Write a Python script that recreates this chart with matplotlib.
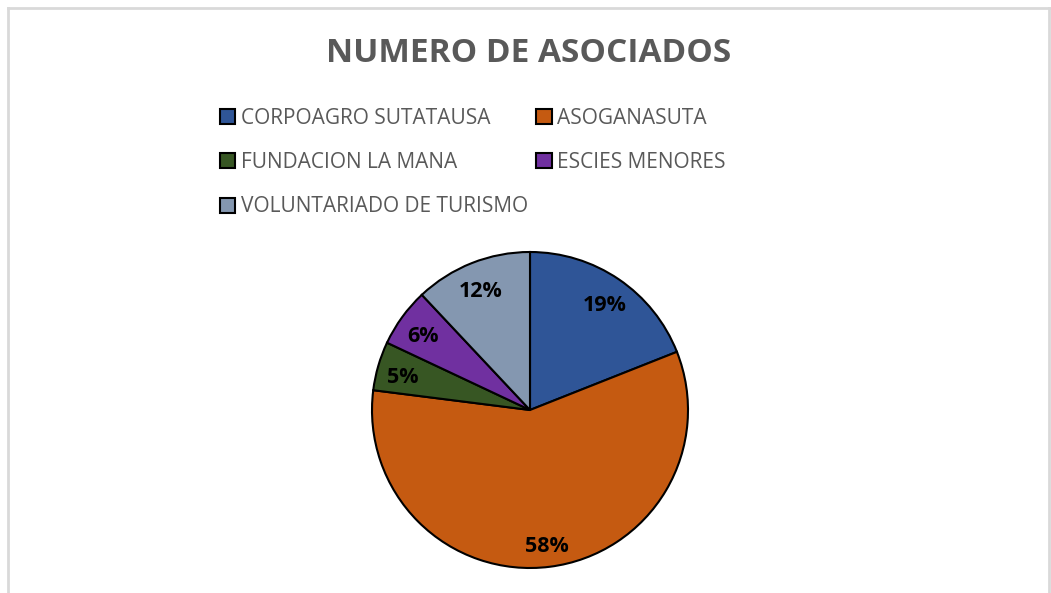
import matplotlib
matplotlib.use("Agg")
import matplotlib.pyplot as plt
from matplotlib.lines import Line2D

# Datos del grafico
categorias = ['CORPOAGRO SUTATAUSA', 'ASOGANASUTA', 'FUNDACION LA MANA',
              'ESCIES MENORES', 'VOLUNTARIADO DE TURISMO']
porcentajes = [19, 58, 5, 6, 12]
colores = ['#2F5597', '#C55A11', '#375623', '#7030A0', '#8497B0']

plt.rcParams['font.family'] = ['Open Sans', 'DejaVu Sans']

fig = plt.figure(figsize=(10.51, 5.93), dpi=100)
W, H = 1051, 593

# Marco del grafico
for xs, ys in [([8, 1049], [585, 585]), ([8, 8], [585, -5]), ([1049, 1049], [585, -5])]:
    fig.add_artist(Line2D([x / W for x in xs], [y / H for y in ys],
                          color='#d9d9d9', lw=2, transform=fig.transFigure))

# Titulo
fig.text(529 / W, 1 - 53 / H, 'NUMERO DE ASOCIADOS', ha='center', va='center',
         fontsize=24, fontweight='bold', color='#595959')

# Pastel
cx, cy, r = 530, 410, 158
ax = fig.add_axes([(cx - 160) / W, (H - cy - 160) / H, 320 / W, 320 / H])
wedges, textos, autotextos = ax.pie(
    porcentajes, colors=colores, startangle=90, counterclock=False,
    radius=r / 160, autopct='%1.0f%%', pctdistance=0.84,
    wedgeprops=dict(edgecolor='black', linewidth=1.5),
    textprops=dict(fontsize=15.5, fontweight='bold', color='black'))
for t in autotextos:
    x, y = t.get_position()
    t.set_position((x, y - 0.03))
ax.set_xlim(-1, 1)
ax.set_ylim(-1, 1)
ax.set_aspect('equal')
ax.axis('off')

# Leyenda (orden por filas)
orden = [0, 2, 4, 1, 3]
handles = [plt.Rectangle((0, 0), 1, 1, facecolor=colores[i], edgecolor='black', lw=1.5)
           for i in orden]
etiquetas = [categorias[i] for i in orden]
fig.legend(handles, etiquetas, ncol=2, loc='upper left',
           bbox_to_anchor=(201 / W, 1 - 89 / H), frameon=False,
           fontsize=15, labelcolor='#595959', handlelength=0.75, handleheight=0.75,
           handletextpad=0.25, columnspacing=0.4, labelspacing=1.12)

fig.savefig('out.png', dpi=100, facecolor='white')
